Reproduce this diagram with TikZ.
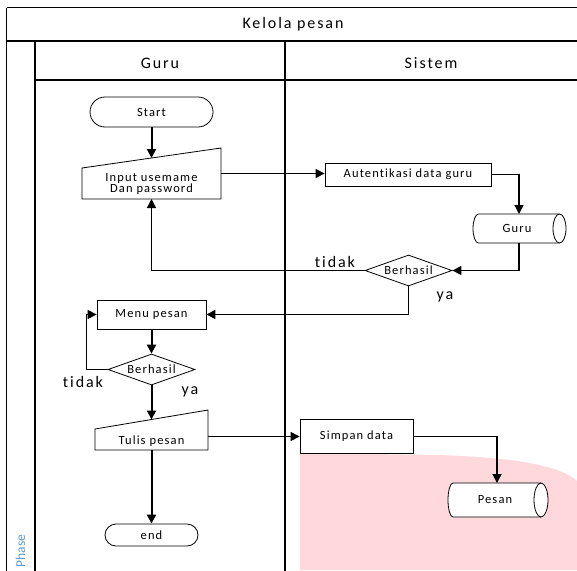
\documentclass[tikz,border=0pt]{standalone}
\usepackage{fontspec}
\newfontfamily\carlitowide{Carlito}[LetterSpace=9,Ligatures={NoCommon}]
\newfontfamily\carlitohead{Carlito}[LetterSpace=12,Ligatures={NoCommon}]
\newfontfamily\carlitoplain{Carlito}
\usetikzlibrary{arrows.meta,shapes.geometric,calc}

\newcommand\flowtextfont{\carlitowide\fontsize{12.5}{11}\selectfont}
\newcommand\headtextfont{\carlitohead\fontsize{16}{18}\selectfont}
\newcommand\phasetextfont{\carlitoplain\fontsize{13.5}{15}\selectfont}

\definecolor{phaseblue}{RGB}{91,155,213}
\definecolor{pinkwash}{RGB}{255,216,220}

\tikzset{
  lane/.style={line width=1.6pt},
  outline/.style={draw=black, line width=0.8pt},
  hole/.style={inner sep=0pt, outer sep=0pt},
  txt/.style={inner sep=0pt, font=\flowtextfont, align=center},
  proc/.style={outline, fill=white, inner sep=0pt, font=\flowtextfont},
  term/.style={proc},
  decide/.style={diamond, aspect=2.8, outline, fill=white, inner sep=0pt,
    minimum width=87pt, minimum height=31pt, font=\flowtextfont},
  conn/.style={line width=1.3pt, -{Triangle[length=9pt,width=9pt]}},
  connthick/.style={conn, line width=2pt},
  lbl/.style={inner sep=0pt, font=\headtextfont},
}

\begin{document}
\begin{tikzpicture}[x=1pt,y=-1pt]
\useasboundingbox (0,0) rectangle (577,570);
\clip (0,0) rectangle (577,570);

% soft pink patch in the lower right
\fill[pinkwash] (300,453) -- (440,455) .. controls (520,458) and (560,466) .. (577,481)
  -- (577,570) -- (300,570) -- cycle;

% swimlane frame
\draw[lane] (6.5,7.5) -- (600,7.5);
\draw[lane] (6.5,7.5) -- (6.5,600);
\draw[lane] (6.5,41) -- (600,41);
\draw[lane] (35,80) -- (600,80);
\draw[lane] (35,41) -- (35,600);
\draw[lane] (285,41) -- (285,600);

\node[lbl] (title) at (293,24) {Kelola pesan};
\node[lbl] (laneGuru) at (160,63) {Guru};
\node[lbl] (laneSistem) at (431,63) {Sistem};
\node[inner sep=0pt, rotate=90, text=phaseblue, font=\phasetextfont] (phase) at (20.5,551) {Phase};

% Guru lane
\node[term, rounded corners=15pt, minimum width=123pt, minimum height=30pt] (start) at (151.5,112) {Start};

\node[hole, minimum width=139pt, minimum height=51pt] (input) at (151.5,173.5) {};
\draw[outline, fill=white] ($(input.north west)+(0,20)$) -- (input.north east)
  -- (input.south east) -- (input.south west) -- cycle;
\node[txt] (inputText) at (151.5,184) {Input usemame\\Dan password};
\coordinate (inputTop) at ($(input.north)+(0,10)$);

\node[proc, minimum width=109pt, minimum height=29pt] (menu) at (151.5,314.5) {Menu pesan};
\node[decide] (cek2) at (151.5,369.5) {Berhasil};

\node[hole, minimum width=113pt, minimum height=40pt] (tulis) at (151.5,430) {};
\draw[outline, fill=white] ($(tulis.north west)+(0,19)$) -- (tulis.north east)
  -- (tulis.south east) -- (tulis.south west) -- cycle;
\node[txt] (tulisText) at (151.5,441) {Tulis pesan};
\coordinate (tulisTop) at ($(tulis.north)+(0,9.5)$);

\node[term, rounded corners=11pt, minimum width=93pt, minimum height=22pt] (end) at (151.5,535) {end};

% Sistem lane
\node[proc, minimum width=166pt, minimum height=23pt] (autent) at (408,174.5) {Autentikasi data guru};

\node[hole, minimum width=81pt, minimum height=29pt] (guru) at (519,228.5) {};
\draw[outline, fill=white] (guru.north west) arc[start angle=270, end angle=90, x radius=5.5, y radius=14.5]
  -- (guru.south east) arc[start angle=90, end angle=-90, x radius=6.5, y radius=14.5] -- cycle;
\draw[outline] (guru.north east) arc[start angle=270, end angle=90, x radius=6.5, y radius=14.5];
\node[txt] (guruText) at (517,228.5) {Guru};

\node[decide] (cek1) at (408.5,270.5) {Berhasil};

\node[proc, minimum width=113pt, minimum height=34pt] (simpan) at (356.5,436.5) {Simpan data};

\node[hole, minimum width=88pt, minimum height=34pt] (pesan) at (497,500) {};
\draw[outline, fill=white] (pesan.north west) arc[start angle=270, end angle=90, x radius=5, y radius=17]
  -- (pesan.south east) arc[start angle=90, end angle=-90, x radius=7, y radius=17] -- cycle;
\draw[outline] (pesan.north east) arc[start angle=270, end angle=90, x radius=7, y radius=17];
\node[txt] (pesanText) at (495,500) {Pesan};

% connectors
\draw[connthick] (start.south) -- (inputTop);
\draw[conn] (input.east) -- (input.east -| autent.west);
\draw[conn] (autent.east) -| (guru.north);
\draw[conn] (guru.south) |- (cek1.east);
\draw[conn] (cek1.west) -| (input.south);
\draw[conn] (cek1.south) |- (menu.east);
\draw[connthick] (menu.south) -- (cek2.north);
\draw[conn] (cek2.west) -- ++(-21,0) |- (menu.west);
\draw[connthick] (cek2.south) -- (tulisTop);
\draw[conn, line width=1pt] (tulis.east |- simpan.west) -- (simpan.west);
\draw[conn] (simpan.east) -| (pesan.north);
\draw[connthick] (tulis.south) -- (end.north);

% branch labels
\node[lbl] (tidakA) at (335,262) {tidak};
\node[lbl] (yaA) at (445,297) {ya};
\node[lbl] (tidakB) at (83,382) {tidak};
\node[lbl] (yaB) at (190,392) {ya};
\end{tikzpicture}
\end{document}
